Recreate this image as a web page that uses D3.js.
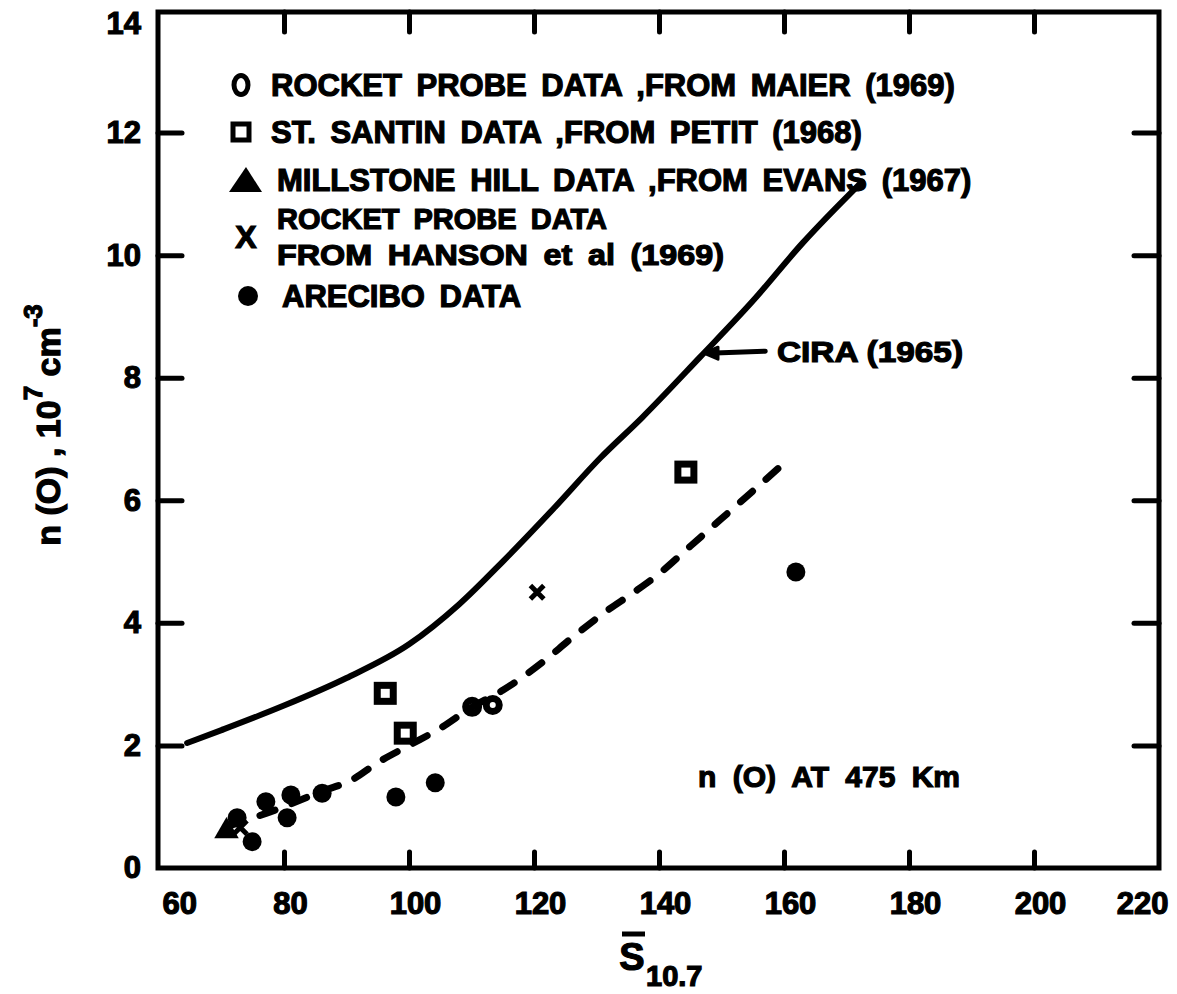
<!DOCTYPE html>
<html>
<head>
<meta charset="utf-8">
<script src="https://cdn.jsdelivr.net/npm/d3@7"></script>
<style>
  body { margin: 0; background: #fff; }
  svg text { font-family: "Liberation Sans", Arial, sans-serif; font-weight: bold; fill: #000;
             stroke: #000; stroke-width: 1.2px; }
</style>
</head>
<body>
<div id="chart"></div>
<script>
// Données (S10.7, n(O) en 10^7 cm^-3)
const xTickLabels = [60, 80, 100, 120, 140, 160, 180, 200, 220];
const yTickLabels = [0, 2, 4, 6, 8, 10, 12, 14];
const xTickMarks = [80, 100, 120, 140, 160, 180, 200];
const yTickMarks = [2, 4, 6, 8, 10, 12];

const ciraCurve = [[64.5, 2.04], [70, 2.25], [80, 2.65], [90, 3.1], [100, 3.65], [108, 4.3],
  [115, 5.0], [123, 5.85], [130.6, 6.69], [137.3, 7.35], [146.6, 8.34], [155, 9.25],
  [163, 10.2], [172.5, 11.2]];
const fitCurve = [[71, 0.68], [80, 1.0], [86, 1.25], [90.9, 1.44], [95, 1.72], [100, 2.0],
  [105, 2.28], [110, 2.62], [115, 2.9], [121.4, 3.36], [126, 3.75], [131.7, 4.2],
  [136, 4.5], [140, 4.8], [145, 5.25], [150, 5.7], [155, 6.15], [160.6, 6.66]];

const maierPts = [[110.1, 2.63], [113.4, 2.66]];
const petitPts = [[96.2, 2.85], [99.4, 2.2], [144.3, 6.46]];
const evansPts = [[70.8, 0.6]];
const hansonPts = [[73, 0.66], [120.5, 4.5]];
const areciboPts = [[72.5, 0.82], [74.9, 0.43], [77.1, 1.08], [80.5, 0.82], [81.1, 1.19],
  [86.1, 1.22], [97.9, 1.16], [104.2, 1.39], [161.9, 4.83]];

const legendLines = [
  { sym: "circle", lines: ["ROCKET PROBE DATA ,FROM MAIER (1969)"] },
  { sym: "square", lines: ["ST. SANTIN DATA ,FROM PETIT (1968)"] },
  { sym: "triangle", lines: ["MILLSTONE HILL DATA ,FROM EVANS (1967)"] },
  { sym: "cross", lines: ["ROCKET PROBE DATA", "FROM HANSON et al (1969)"] },
  { sym: "dot", lines: ["ARECIBO DATA"] }
];

const width = 1177, height = 994;
const frame = { left: 158, right: 1159, top: 12, bottom: 868 };

const svg = d3.select("#chart").append("svg")
  .attr("width", width)
  .attr("height", height);

const x = d3.scaleLinear().domain([60, 220]).range([159, 1159]);
const y = d3.scaleLinear().domain([0, 14]).range([868, 10]);

// cadre
svg.append("rect")
  .attr("x", frame.left).attr("y", frame.top)
  .attr("width", frame.right - frame.left).attr("height", frame.bottom - frame.top)
  .attr("fill", "none").attr("stroke", "#000").attr("stroke-width", 5);

// graduations intérieures
function styleTicks(g) {
  g.select(".domain").remove();
  g.selectAll("line").attr("stroke", "#000").attr("stroke-width", 5).attr("stroke-linecap", "round");
}
svg.append("g").attr("transform", `translate(0,${frame.bottom})`)
  .call(d3.axisBottom(x).tickValues(xTickMarks).tickSize(-16).tickFormat(""))
  .call(styleTicks);
svg.append("g").attr("transform", `translate(0,${frame.top})`)
  .call(d3.axisTop(x).tickValues(xTickMarks).tickSize(-20).tickFormat(""))
  .call(styleTicks);
svg.append("g").attr("transform", `translate(${frame.left},0)`)
  .call(d3.axisLeft(y).tickValues(yTickMarks).tickSize(-24).tickFormat(""))
  .call(styleTicks);
svg.append("g").attr("transform", `translate(${frame.right},0)`)
  .call(d3.axisRight(y).tickValues(yTickMarks).tickSize(-25).tickFormat(""))
  .call(styleTicks);

// étiquettes des axes
function styleLabels(g) {
  g.select(".domain").remove();
  g.selectAll("text").attr("font-size", 31)
    .style("font-family", "'Liberation Sans', Arial, sans-serif").style("font-weight", "bold")
    .attr("stroke", "#000").attr("stroke-width", 1.2);
}
const xLab = svg.append("g").attr("transform", `translate(0,${frame.bottom})`)
  .call(d3.axisBottom(x).tickValues(xTickLabels).tickSize(0).tickPadding(24))
  .call(styleLabels);
xLab.selectAll("text").attr("dx", 6);
xLab.selectAll("text").filter(d => d === 60).attr("text-anchor", "start").attr("dx", 3);
xLab.selectAll("text").filter(d => d === 220).attr("text-anchor", "end").attr("dx", 9);

const yLab = svg.append("g").attr("transform", `translate(${frame.left},0)`)
  .call(d3.axisLeft(y).tickValues(yTickLabels).tickSize(0).tickPadding(17))
  .call(styleLabels);
yLab.selectAll("text").filter(d => d === 14).attr("dy", "0.75em");

// titre de l'axe x : S barre, indice 10.7
svg.append("text").attr("x", 632).attr("y", 970).attr("text-anchor", "middle")
  .attr("font-size", 38).text("S");
svg.append("line").attr("x1", 622).attr("x2", 645).attr("y1", 934).attr("y2", 934)
  .attr("stroke", "#000").attr("stroke-width", 5);
svg.append("text").attr("x", 646).attr("y", 986).attr("font-size", 29).text("10.7");

// titre de l'axe y
const yTitle = svg.append("text")
  .attr("transform", "translate(60,425) rotate(-90)")
  .attr("text-anchor", "middle")
  .attr("font-size", 34);
yTitle.append("tspan").text("n (O) , 10");
yTitle.append("tspan").attr("font-size", 26).attr("dy", -18).text("7");
yTitle.append("tspan").attr("dy", 18).text(" cm");
yTitle.append("tspan").attr("font-size", 26).attr("dy", -18).text("-3");

// courbes
const line = d3.line().x(d => x(d[0])).y(d => y(d[1])).curve(d3.curveMonotoneX);
svg.append("path").datum(ciraCurve).attr("d", line)
  .attr("fill", "none").attr("stroke", "#000").attr("stroke-width", 6).attr("stroke-linecap", "round");
svg.append("path").datum(fitCurve).attr("d", line)
  .attr("fill", "none").attr("stroke", "#000").attr("stroke-width", 7)
  .attr("stroke-linecap", "round").attr("stroke-dasharray", "16,18");

// points
svg.append("g").selectAll("circle").data(areciboPts).join("circle")
  .attr("cx", d => x(d[0])).attr("cy", d => y(d[1])).attr("r", 9.5).attr("fill", "#000");
svg.append("g").selectAll("circle").data(maierPts).join("circle")
  .attr("cx", d => x(d[0])).attr("cy", d => y(d[1])).attr("r", 6.5)
  .attr("fill", "none").attr("stroke", "#000").attr("stroke-width", 7);
svg.append("g").selectAll("rect").data(petitPts).join("rect")
  .attr("x", d => x(d[0]) - 8).attr("y", d => y(d[1]) - 8).attr("width", 16).attr("height", 16)
  .attr("fill", "none").attr("stroke", "#000").attr("stroke-width", 7);
const tri = d3.symbol().type(d3.symbolTriangle).size(260);
svg.append("g").selectAll("path").data(evansPts).join("path")
  .attr("transform", d => `translate(${x(d[0])},${y(d[1])})`).attr("d", tri).attr("fill", "#000");
const cross = d3.symbol().type(d3.symbolTimes).size(120);
svg.append("g").selectAll("path").data(hansonPts).join("path")
  .attr("transform", d => `translate(${x(d[0])},${y(d[1])})`).attr("d", cross)
  .attr("fill", "none").attr("stroke", "#000").attr("stroke-width", 5);

// annotations
const tipS = 147.2, tipN = 8.4;
svg.append("line").attr("x1", x(tipS) + 4).attr("x2", x(157)).attr("y1", y(tipN)).attr("y2", y(tipN) - 2)
  .attr("stroke", "#000").attr("stroke-width", 5).attr("stroke-linecap", "round");
svg.append("path")
  .attr("d", `M${x(tipS)},${y(tipN)} l14,-6 l0,12 z`)
  .attr("fill", "#000").attr("stroke", "#000").attr("stroke-width", 3).attr("stroke-linejoin", "round");
svg.append("text").attr("x", 777).attr("y", 362).attr("font-size", 30)
  .attr("textLength", 186).attr("lengthAdjust", "spacingAndGlyphs").text("CIRA (1965)");
svg.append("text").attr("x", 698).attr("y", 787).attr("font-size", 30)
  .attr("word-spacing", 8).text("n (O) AT 475 Km");

// légende
const legendY = [85, 132, 180, 218, 296];
const legendX = [271, 271, 277, 277, 282];
const legend = svg.append("g");
legendLines.forEach((item, i) => {
  const cy = legendY[i] + (item.lines.length > 1 ? 18 : 0);
  const cx = 244;
  if (item.sym === "circle") {
    legend.append("ellipse").attr("cx", cx - 3).attr("cy", cy).attr("rx", 7).attr("ry", 9.5)
      .attr("fill", "none").attr("stroke", "#000").attr("stroke-width", 5);
  } else if (item.sym === "square") {
    legend.append("rect").attr("x", cx - 11).attr("y", cy - 8).attr("width", 16).attr("height", 16)
      .attr("fill", "none").attr("stroke", "#000").attr("stroke-width", 5);
  } else if (item.sym === "triangle") {
    legend.append("path").attr("d", `M${cx - 15},${cy + 12} L${cx + 2},${cy - 13} L${cx + 18},${cy + 12} Z`)
      .attr("fill", "#000");
  } else if (item.sym === "cross") {
    legend.append("text").attr("x", cx + 2).attr("y", cy + 12).attr("text-anchor", "middle")
      .attr("font-size", 32).text("X");
  } else {
    legend.append("circle").attr("cx", cx + 4).attr("cy", cy).attr("r", 10).attr("fill", "#000");
  }
  item.lines.forEach((t, j) => {
    const txt = legend.append("text").attr("x", legendX[i]).attr("y", legendY[i] + 11 + j * 36)
      .attr("font-size", item.lines.length > 1 ? 29 : 31).attr("word-spacing", 6).text(t);
    if (i === 3 && j === 1) txt.attr("textLength", 447).attr("lengthAdjust", "spacingAndGlyphs");
  });
});
</script>
</body>
</html>
